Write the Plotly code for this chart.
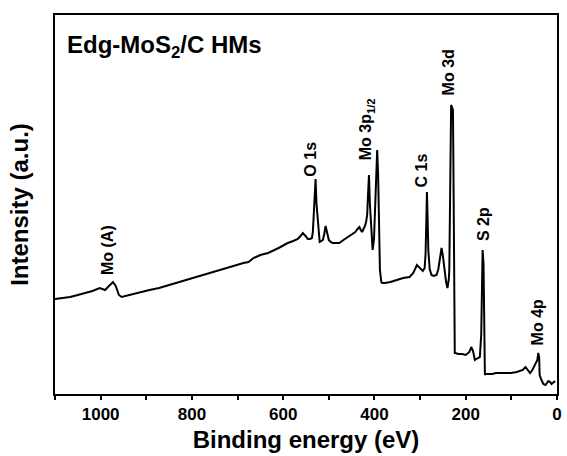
import plotly.graph_objects as go

# Binding energy (eV) and intensity (a.u.)
energy = [1100, 1085, 1067, 1050, 1034, 1018, 1002, 996, 990, 984, 979, 976, 973, 970, 967, 963, 960, 954,
          945, 937, 915, 893, 872, 850, 825, 800, 776, 752, 730, 709, 687, 676, 665, 650, 633, 610, 590,
          578, 568, 562, 557, 551, 546, 541, 537, 535, 533, 531, 529, 527, 524, 522, 520, 516, 513, 510,
          507, 503, 500, 496, 492, 485, 477, 468, 459, 450, 442, 437, 433, 430, 427, 423, 420, 418, 416,
          414, 412, 410, 407, 404, 401, 398, 396, 394, 392, 391, 389, 388, 385, 383, 377, 365, 351, 337,
          323, 315, 307, 300, 294, 290, 288, 286, 285, 284, 282, 279, 275, 270, 264, 260, 257, 253, 250,
          247, 243, 240, 237, 236, 234, 232, 231, 229, 228, 227, 226, 224, 223, 216, 208, 200, 192, 188,
          184, 180, 173, 169, 166, 165, 164, 163, 161, 160, 159, 158, 157, 150, 142, 134, 118, 101, 88,
          75, 69, 64, 59, 54, 48, 43, 41, 39, 38, 36, 34, 30, 25, 19, 15, 12, 8, 4, 1]
intensity = [95, 96, 97, 99, 101, 103, 106, 105, 104, 107, 109, 111, 112, 110, 108, 103, 99, 97,
             98, 99, 102, 104, 106, 109, 112, 116, 119, 122, 125, 128, 131, 132, 136, 139, 141, 146, 151,
             153, 155, 158, 161, 158, 155, 155, 156, 162, 178, 200, 215, 190, 169, 156, 152, 153, 154, 160,
             168, 160, 154, 152, 151, 151, 151, 154, 157, 160, 162, 165, 167, 164, 162, 166, 169, 173, 179,
             200, 219, 190, 164, 144, 155, 190, 229, 244, 220, 194, 150, 124, 112, 111, 111, 112, 114, 116,
             117, 121, 129, 126, 123, 126, 140, 180, 202, 185, 144, 125, 119, 118, 119, 125, 136, 146, 138,
             124, 112, 106, 115, 124, 244, 289, 288, 286, 284, 230, 144, 41, 41, 40, 40, 39, 42,
             47, 43, 34, 36, 37, 60, 110, 142, 144, 130, 64, 35, 19, 20, 20, 20, 21, 21, 21,
             22, 24, 27, 24, 21, 24, 30, 34, 41, 36, 19, 15, 14, 10, 9, 13, 12, 10, 12, 13]

# Peak labels: text, binding energy, label centre height
peak_text = ["Mo (A)", "O 1s", "Mo 3p<sub>1/2</sub>", "C 1s", "Mo 3d", "S 2p", "Mo 4p"]
peak_x = [986, 542, 418, 297, 238, 162, 43]
peak_y = [144, 235, 265, 224, 322, 170, 72]

# Major (labelled) ticks every 200 eV, minor ticks in between
tick_vals = [1000, 800, 600, 400, 200, 0]
tick_text = ["1000", "800", "600", "400", "200", "0"]
minor_vals = [1100, 900, 700, 500, 300, 100]

FONT = "Liberation Sans"

fig = go.Figure()
fig.add_trace(go.Scatter(x=energy, y=intensity, mode="lines",
                         line=dict(color="black", width=2), showlegend=False,
                         hoverinfo="skip"))

for t, px, py in zip(peak_text, peak_x, peak_y):
    fig.add_annotation(x=px, y=py, xref="x", yref="y", text=t, textangle=-90,
                       showarrow=False, xanchor="center", yanchor="middle",
                       font=dict(family=FONT, size=16, color="black", weight="bold"))

fig.add_annotation(x=0.02, y=0.916, xref="paper", yref="paper",
                   text="Edg-MoS<sub>2</sub>/C HMs", showarrow=False,
                   xanchor="left", yanchor="middle",
                   font=dict(family=FONT, size=24, color="black", weight="bold"))

fig.update_layout(
    width=567, height=456,
    margin=dict(l=55, r=5, t=15, b=62),
    paper_bgcolor="white", plot_bgcolor="white",
    font=dict(family=FONT, color="black"),
)
fig.update_xaxes(
    range=[1100, 0], tickvals=tick_vals, ticktext=tick_text,
    ticks="outside", ticklen=4, tickwidth=2, tickcolor="black",
    minor=dict(tickvals=minor_vals, ticks="outside", ticklen=4, tickwidth=2,
               tickcolor="black", showgrid=False),
    showline=True, linecolor="black", linewidth=2, mirror=True,
    showgrid=False, zeroline=False,
    tickfont=dict(family=FONT, size=17, color="black", weight="bold"),
    title=dict(text="Binding energy (eV)", standoff=8,
               font=dict(family=FONT, size=24, color="black", weight="bold")),
)
fig.update_yaxes(
    range=[0, 379], showticklabels=False, ticks="",
    showline=True, linecolor="black", linewidth=2, mirror=True,
    showgrid=False, zeroline=False,
    title=dict(text="Intensity (a.u.)", standoff=18,
               font=dict(family=FONT, size=24, color="black", weight="bold")),
)

fig.write_html("out.html")
